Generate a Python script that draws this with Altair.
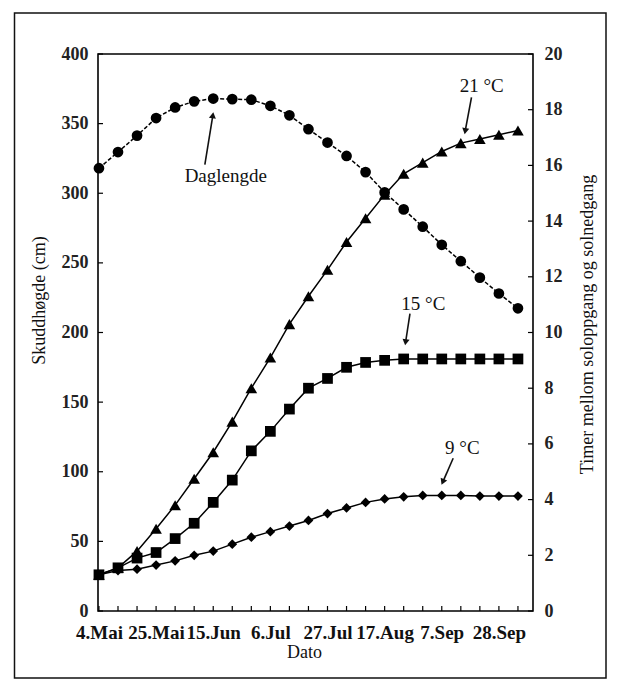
import altair as alt
import pandas as pd

# ---- data ----
datoer = ["4.Mai", "11.Mai", "18.Mai", "25.Mai", "1.Jun", "8.Jun", "15.Jun", "22.Jun",
          "29.Jun", "6.Jul", "13.Jul", "20.Jul", "27.Jul", "3.Aug", "10.Aug", "17.Aug",
          "24.Aug", "31.Aug", "7.Sep", "14.Sep", "21.Sep", "28.Sep", "5.Okt"]
uke = list(range(len(datoer)))
hoyde_21 = [26, 31, 43, 59, 76, 95, 114, 136, 160, 182, 206, 226, 245, 265, 282, 299,
            314, 322, 330, 336, 339, 342, 345]
hoyde_15 = [26, 31, 38, 42, 52, 63, 78, 94, 115, 129, 145, 160, 167, 175, 178.5, 180,
            181, 181, 181, 181, 181, 181, 181]
hoyde_9 = [26, 29, 30, 33, 36, 40, 43, 48, 53, 57, 61, 65, 70, 74, 78, 80.5,
           82, 83, 83, 83, 82.5, 82.5, 82.5]
daglengde = [15.9, 16.48, 17.07, 17.7, 18.08, 18.3, 18.4, 18.38, 18.36, 18.14, 17.8, 17.3,
             16.82, 16.34, 15.76, 15.03, 14.42, 13.8, 13.15, 12.56, 11.97, 11.4, 10.87]
serier = ["21 °C", "15 °C", "9 °C"]
x_etiketter = [0, 3, 6, 9, 12, 15, 18, 21]
y_venstre_ticks = [0, 50, 100, 150, 200, 250, 300, 350, 400]
y_hoyre_ticks = [0, 2, 4, 6, 8, 10, 12, 14, 16, 18, 20]

# annotations (text and arrows), in data units (uke, cm)
ann_tekst = ["21 °C", "15 °C", "9 °C", "Daglengde"]
ann_x = [20.1, 17.03, 19.08, 6.66]
ann_y = [377, 220.8, 117, 312.3]
pil_x1 = [19.56, 16.33, 18.6, 5.56]
pil_y1 = [368.8, 213.6, 109.7, 320.5]
pil_x2 = [19.23, 16.1, 18.05, 5.98]
pil_y2 = [344.6, 193.0, 92.6, 356.0]
pil_vinkel = [190, 189, 203, 9]

W, H = 435, 557
serif = "Liberation Serif"

df_h = pd.DataFrame({
    "uke": uke * 3,
    "cm": hoyde_21 + hoyde_15 + hoyde_9,
    "serie": [serier[0]] * len(uke) + [serier[1]] * len(uke) + [serier[2]] * len(uke),
})
df_d = pd.DataFrame({"uke": uke, "timer": daglengde})
df_ann = pd.DataFrame({"uke": ann_x, "cm": ann_y, "tekst": ann_tekst})
df_pil = pd.DataFrame({"uke": pil_x1, "cm": pil_y1, "uke2": pil_x2, "cm2": pil_y2,
                       "vinkel": pil_vinkel})
df_xt = pd.DataFrame({"uke": uke})
df_yl = pd.DataFrame({"cm": y_venstre_ticks})
df_yr = pd.DataFrame({"timer": y_hoyre_ticks})
df_frame = pd.DataFrame({"a": [0]})

label_js = "[" + ",".join("'%s'" % d for d in datoer) + "][datum.value]"

x_axis = alt.Axis(values=x_etiketter, labelExpr=label_js, grid=False, ticks=False, tickSize=0,
                  domain=False, labelFont=serif, labelFontSize=19, labelFontWeight="bold",
                  labelColor="#111", labelBaseline="middle", labelPadding=21,
                  labelFlush=False, labelOverlap=False,
                  title="Dato", titleFont=serif, titleFontSize=18, titleFontWeight="normal",
                  titleColor="#111", titleX=206, titleY=41, titleBaseline="middle",
                  titleAlign="center")
x_scale = alt.Scale(domain=[-0.05, 22.79], nice=False, zero=False)
X = alt.X("uke:Q", scale=x_scale, axis=x_axis)

yl_axis = alt.Axis(values=y_venstre_ticks, grid=False, ticks=False, tickSize=0, domain=False,
                   labelFont=serif, labelFontSize=18, labelFontWeight="bold", labelColor="#222",
                   labelPadding=10, title="Skuddhøgde (cm)", titleFont=serif,
                   titleFontSize=18, titleFontWeight="normal", titleColor="#111",
                   titleAngle=270, titleX=-59, titleY=246, titleAlign="center",
                   titleBaseline="middle")
yl_scale = alt.Scale(domain=[0, 400], nice=False)
YL = alt.Y("cm:Q", scale=yl_scale, axis=yl_axis)

yr_axis = alt.Axis(orient="right", values=y_hoyre_ticks, grid=False, ticks=False, tickSize=0,
                   domain=False, labelFont=serif, labelFontSize=18, labelFontWeight="bold",
                   labelColor="#222", labelPadding=11,
                   title="Timer mellom soloppgang og solnedgang", titleFont=serif,
                   titleFontSize=18, titleFontWeight="normal", titleColor="#111",
                   titleAngle=270, titleX=54, titleY=270, titleAlign="center",
                   titleBaseline="middle")
yr_scale = alt.Scale(domain=[0, 20], nice=False)
YR = alt.Y("timer:Q", scale=yr_scale, axis=yr_axis)

linjer = alt.Chart(df_h).mark_line(color="black", strokeWidth=1.5).encode(
    x=X, y=YL, detail="serie:N")
punkter = alt.Chart(df_h).mark_point(filled=True, color="black", opacity=1).encode(
    x=X, y=YL,
    shape=alt.Shape("serie:N", scale=alt.Scale(domain=serier,
                                                range=["triangle-up", "square", "diamond"]),
                    legend=None),
    size=alt.Size("serie:N", scale=alt.Scale(domain=serier, range=[135, 95, 135]),
                  legend=None))
tekst = alt.Chart(df_ann).mark_text(font=serif, fontSize=19, color="#111",
                                    baseline="middle", align="center").encode(
    x=X, y=YL, text="tekst:N")
piler = alt.Chart(df_pil).mark_rule(color="#111", strokeWidth=1.6).encode(
    x=X, y=YL, x2="uke2:Q", y2="cm2:Q")
pilhoder = alt.Chart(df_pil).mark_point(shape="triangle-up", filled=True, color="#111",
                                        size=50, opacity=1).encode(
    x=alt.X("uke2:Q", scale=x_scale, axis=x_axis),
    y=alt.Y("cm2:Q", scale=yl_scale, axis=yl_axis),
    angle=alt.Angle("vinkel:Q", scale=None))
xticks = alt.Chart(df_xt).mark_rule(color="black", strokeWidth=1.2).encode(
    x=X, y=alt.value(H), y2=alt.value(H - 5))
ylticks = alt.Chart(df_yl).mark_rule(color="black", strokeWidth=1.2).encode(
    y=YL, x=alt.value(0), x2=alt.value(5))
ramme = alt.Chart(df_frame).mark_rect(fill=None, stroke="#111", strokeWidth=1.5).encode(
    x=alt.value(-83.5), x2=alt.value(508), y=alt.value(-41), y2=alt.value(624))

venstre = alt.layer(ramme, xticks, ylticks, linjer, punkter, piler, pilhoder, tekst)

dag_linje = alt.Chart(df_d).mark_line(color="black", strokeWidth=1.5,
                                      strokeDash=[4, 2]).encode(x=X, y=YR)
dag_pkt = alt.Chart(df_d).mark_point(filled=True, color="black", shape="circle", size=115,
                                     opacity=1).encode(x=X, y=YR)
yrticks = alt.Chart(df_yr).mark_rule(color="black", strokeWidth=1.2).encode(
    y=YR, x=alt.value(W), x2=alt.value(W - 5))
hoyre = alt.layer(yrticks, dag_linje, dag_pkt)

chart = alt.layer(venstre, hoyre).resolve_scale(y="independent").properties(
    width=W, height=H,
    padding={"left": 90, "top": 46, "right": 77, "bottom": 69},
    autosize=alt.AutoSizeParams(type="none"),
    background="white",
).configure_view(stroke="black", strokeWidth=1.6)

chart.save("out.html", embed_options={"renderer": "svg", "actions": False})
